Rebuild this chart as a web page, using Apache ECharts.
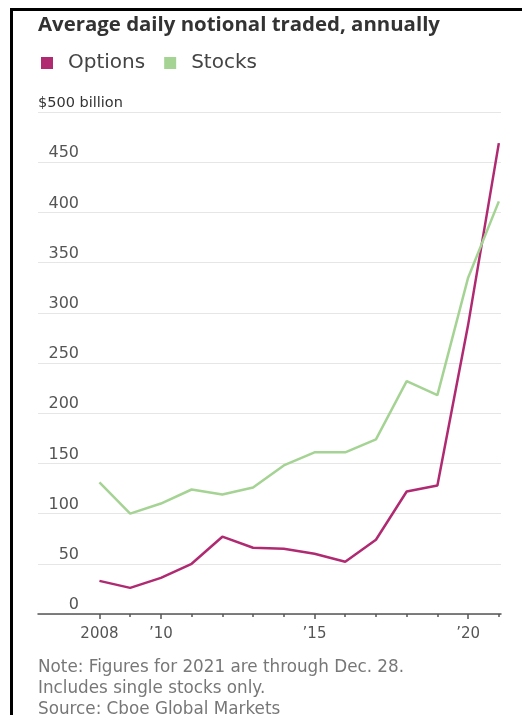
<!DOCTYPE html>
<html>
<head>
<meta charset="utf-8">
<script src="https://cdn.jsdelivr.net/npm/echarts@6/dist/echarts.min.js"></script>
<style>
	html, body { margin: 0; padding: 0; background: #fff; overflow: hidden; }
	#chart { width: 522px; height: 715px; }
</style>
</head>
<body>
<div id="chart"></div>
<script>
	var years = [2008, 2009, 2010, 2011, 2012, 2013, 2014, 2015, 2016, 2017, 2018, 2019, 2020, 2021];
	var options = [33, 26, 36, 50, 77, 66, 65, 60, 52, 74, 122, 128, 288, 469];
	var stocks = [131, 100, 110, 124, 119, 126, 148, 161, 161, 174, 232, 218, 335, 411];
	var majorYears = [2008, 2010, 2015, 2020];
	var minorYears = [2009, 2011, 2012, 2013, 2014, 2016, 2017, 2018, 2019, 2021];
	var yearLabels = {2008: '2008', 2010: '\u201910', 2015: '\u201915', 2020: '\u201920'};
	var notes = ['Note: Figures for 2021 are through Dec. 28.', 'Includes single stocks only.', 'Source: Cboe Global Markets'];

	function pairs(vals) {
		return years.map(function (y, i) { return [y, vals[i]]; });
	}

	var myChart = echarts.init(document.getElementById('chart'));
	var graphics = [
		// black frame, left and top only
		{ type: 'rect', z: 101, shape: { x: 10, y: 8, width: 3, height: 707 }, style: { fill: '#000' } },
		{ type: 'rect', z: 101, shape: { x: 10, y: 8, width: 512, height: 3 }, style: { fill: '#000' } }
	];
	notes.forEach(function (t, i) {
		graphics.push({
			type: 'text',
			left: 38,
			top: 659 + i * 21,
			style: { text: t, fontSize: 16.8, fill: '#777', fontFamily: 'DejaVu Sans' }
		});
	});

	var option = {
		animation: false,
		textStyle: { fontFamily: 'DejaVu Sans' },
		title: {
			text: 'Average daily notional traded, annually',
			left: 33,
			top: 10,
			textStyle: { fontFamily: 'Open Sans', fontWeight: 'bold', fontSize: 20.4, color: '#333' }
		},
		legend: {
			left: 41,
			top: 53,
			padding: 0,
			icon: 'rect',
			itemWidth: 12,
			itemHeight: 12,
			itemGap: 19,
			textStyle: { fontSize: 20, color: '#444', padding: [0, 0, 0, 10] },
			data: ['Options', 'Stocks']
		},
		grid: { left: 38, right: 21, top: 112, bottom: 101 },
		xAxis: [{
			type: 'value',
			min: 2006,
			max: 2021.07,
			interval: 1,
			splitLine: { show: false },
			axisLine: { lineStyle: { color: '#555', width: 1.5 } },
			axisTick: { show: true, length: 5, customValues: majorYears, lineStyle: { color: '#555', width: 1.5 } },
			axisLabel: {
				customValues: majorYears,
				margin: 13,
				fontSize: 15,
				color: '#555',
				formatter: function (v) { return yearLabels[v] || ''; }
			}
		}, {
			type: 'value',
			position: 'bottom',
			min: 2006,
			max: 2021.07,
			interval: 1,
			splitLine: { show: false },
			axisLine: { show: false },
			axisTick: { show: true, length: 3, customValues: minorYears, lineStyle: { color: '#555', width: 1.5 } },
			axisLabel: { show: false }
		}],
		yAxis: {
			type: 'value',
			min: 0,
			max: 500,
			interval: 50,
			axisLine: { show: false },
			axisTick: { show: false },
			splitLine: { lineStyle: { color: '#e6e6e6', width: 1 } },
			axisLabel: {
				inside: true,
				margin: 0,
				verticalAlign: 'bottom',
				padding: [0, 0, 1, 0],
				formatter: function (v) {
					return v === 500 ? '{b|$500 billion}' : '{n|' + v + '}';
				},
				rich: {
					n: { width: 41, align: 'right', fontSize: 16, color: '#555' },
					b: { fontSize: 14.5, color: '#333' }
				}
			}
		},
		graphic: graphics,
		series: [{
			name: 'Options',
			type: 'line',
			symbol: 'none',
			color: '#b02a72',
			lineStyle: { width: 2.5 },
			data: pairs(options)
		}, {
			name: 'Stocks',
			type: 'line',
			symbol: 'none',
			color: '#a5d394',
			lineStyle: { width: 2.5 },
			data: pairs(stocks)
		}]
	};
	myChart.setOption(option);
</script>
</body>
</html>
